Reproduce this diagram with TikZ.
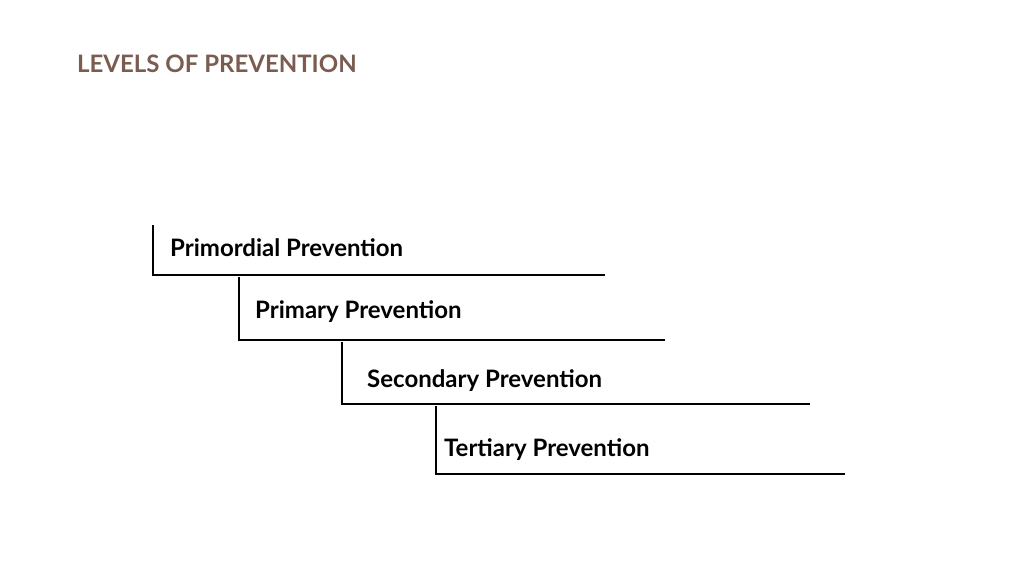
\documentclass[tikz,border=0pt]{standalone}
\usepackage{fontspec}
\setmainfont{Lato}
\definecolor{titlec}{HTML}{7A5C50}
\begin{document}
\begin{tikzpicture}[x=1pt,y=-1pt,
  lbl/.style={anchor=west,inner sep=0pt,font=\fontsize{24}{28}\selectfont\bfseries},
  ln/.style={line width=1.4pt,black}]
\useasboundingbox (0,0) rectangle (1024,578);
\node[anchor=base west,inner sep=0pt,text=titlec,font=\fontsize{24}{28}\selectfont\bfseries] (title) at (77,72) {LEVELS OF PREVENTION};
\node[lbl] (a) at (170,248) {Primordial Prevention};
\node[lbl] (b) at (255,312) {Primary Prevention};
\node[lbl] (c) at (367,381) {Secondary Prevention};
\node[lbl] (d) at (444,450) {Tertiary Prevention};
\coordinate (a1) at (153,225); \coordinate (a2) at (153,275); \coordinate (a3) at (605,275);
\coordinate (b1) at (239,277); \coordinate (b2) at (239,340); \coordinate (b3) at (665,340);
\coordinate (c1) at (342,342); \coordinate (c2) at (342,404); \coordinate (c3) at (810,404);
\coordinate (d1) at (436,406); \coordinate (d2) at (436,474); \coordinate (d3) at (845,474);
\draw[ln] (a1) -- (a2) -- (a3);
\draw[ln] (b1) -- (b2) -- (b3);
\draw[ln] (c1) -- (c2) -- (c3);
\draw[ln] (d1) -- (d2) -- (d3);
\end{tikzpicture}
\end{document}
